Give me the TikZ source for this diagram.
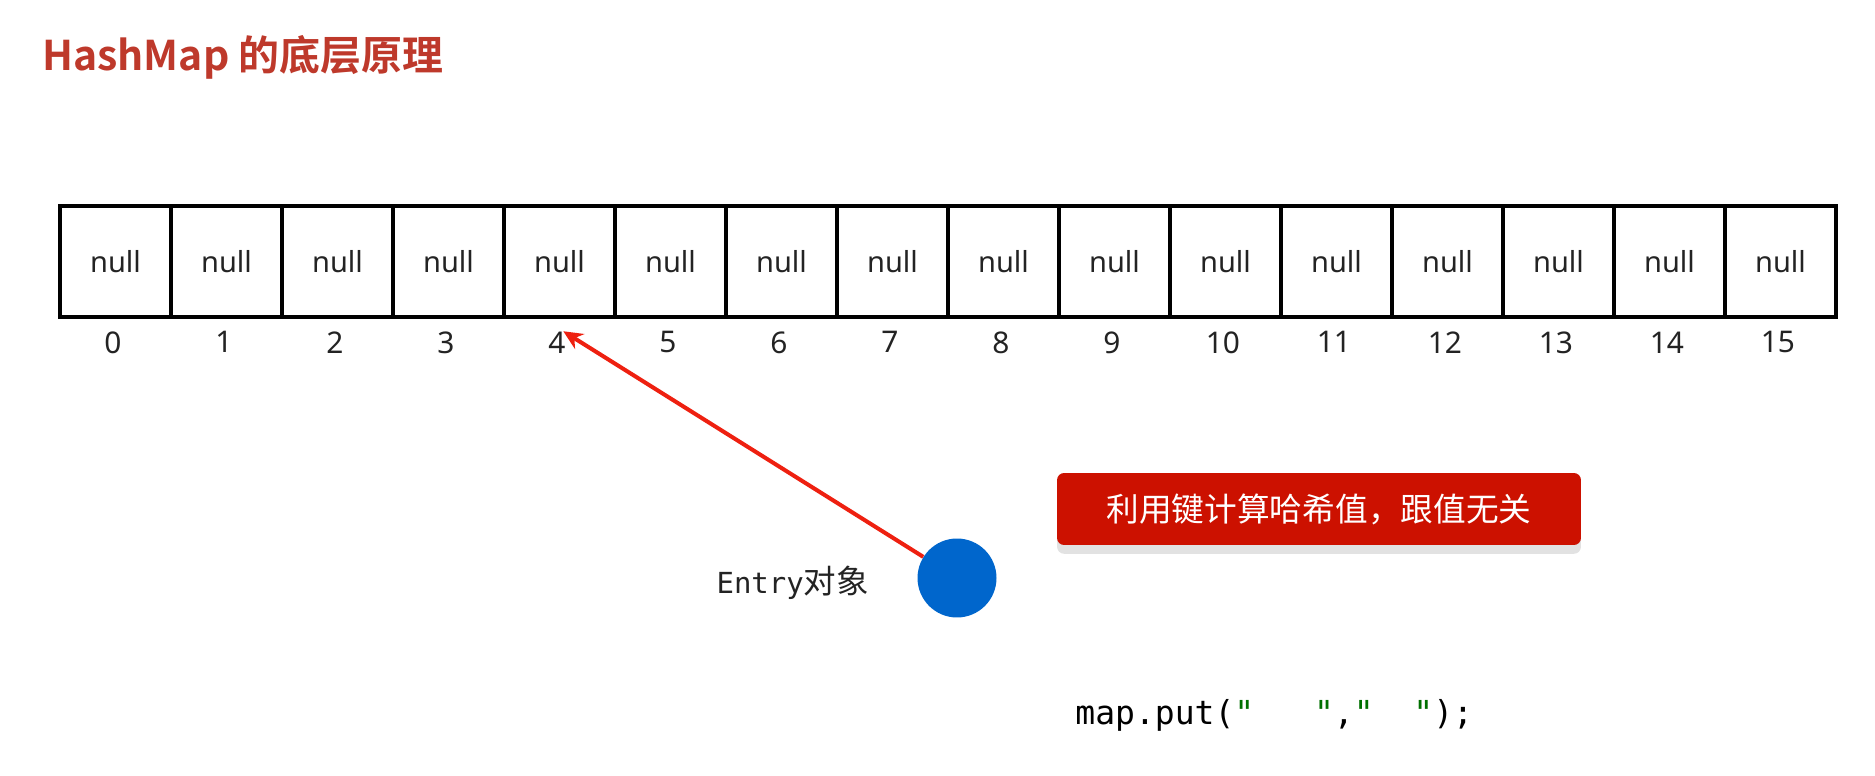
\documentclass[tikz,border=0pt]{standalone}
\usepackage{fontspec}
\setmainfont{Noto Sans}
\setmonofont{DejaVu Sans Mono}
\newfontfamily\cjk{Noto Sans CJK SC}[BoldFont={Noto Sans CJK SC Bold}]
\usetikzlibrary{positioning,arrows.meta,shadows}
\definecolor{hmtitle}{RGB}{190,57,43}
\definecolor{hmtext}{RGB}{35,35,35}
\definecolor{hmnote}{RGB}{204,17,0}
\definecolor{hmshadow}{RGB}{226,226,226}
\definecolor{hmarrow}{RGB}{238,32,16}
\definecolor{hmblue}{RGB}{0,102,204}
\definecolor{hmgreen}{RGB}{0,112,0}
\tikzset{
  slotbox/.style={draw=black,line width=1.9pt,minimum width=2.22cm,minimum height=2.22cm,
    inner sep=0pt,outer sep=0pt,text=hmtext,font=\fontsize{16.5}{18}\selectfont},
  slotidx/.style={inner sep=0pt,xshift=-1.5pt,text=hmtext,font=\fontsize{17}{19}\selectfont},
  notebox/.style={fill=hmnote,text=white,rounded corners=4pt,minimum width=10.48cm,
    minimum height=1.44cm,font=\cjk\fontsize{18.6}{20}\selectfont,
    drop shadow={shadow xshift=0pt,shadow yshift=-5pt,fill=hmshadow,opacity=1}},
  entrydot/.style={circle,fill=hmblue,minimum size=1.58cm,inner sep=0pt},
  hasharrow/.style={draw=hmarrow,line width=2.3pt,-{Stealth[length=11pt,width=10pt]}},
}
\newcommand{\qm}{\textcolor{hmgreen}{"}}

\begin{document}
\begin{tikzpicture}[x=0.02cm,y=-0.02cm]
  \useasboundingbox (0,0) rectangle (1875,776);
  % title
  \node[anchor=base west,inner sep=0pt,text=hmtitle,font=\cjk\bfseries\fontsize{23.3}{26}\selectfont]
    (title) at (42,71) {HashMap 的底层原理};
  % the sixteen buckets
  \foreach \i in {0,...,15}{
    \node[slotbox] (c\i) at ({115.5+111*\i},261.5) {null};
    \node[slotidx,below=0.285cm of c\i] (i\i) {\i};
  }
  % entry and its bucket
  \node[entrydot] (entry) at (957,578) {};
  \node[left=0.96cm of entry,yshift=-2.8pt,inner sep=0pt,text=hmtext,
    font=\fontsize{16.5}{18}\selectfont] (elabel) {\texttt{Entry}{\cjk\fontsize{18.5}{20}\selectfont 对象}};
  \draw[hasharrow] (entry) -- (i4.60);
  \node[notebox] (note) at (1319,509) {利用键计算哈希值，跟值无关};
  \node[anchor=west,inner sep=0pt,font=\ttfamily\fontsize{18.8}{20}\selectfont]
    (code) at (1075,715) {map.put(\qm\ \ \ \qm,\qm\ \ \qm);};
\end{tikzpicture}
\end{document}
